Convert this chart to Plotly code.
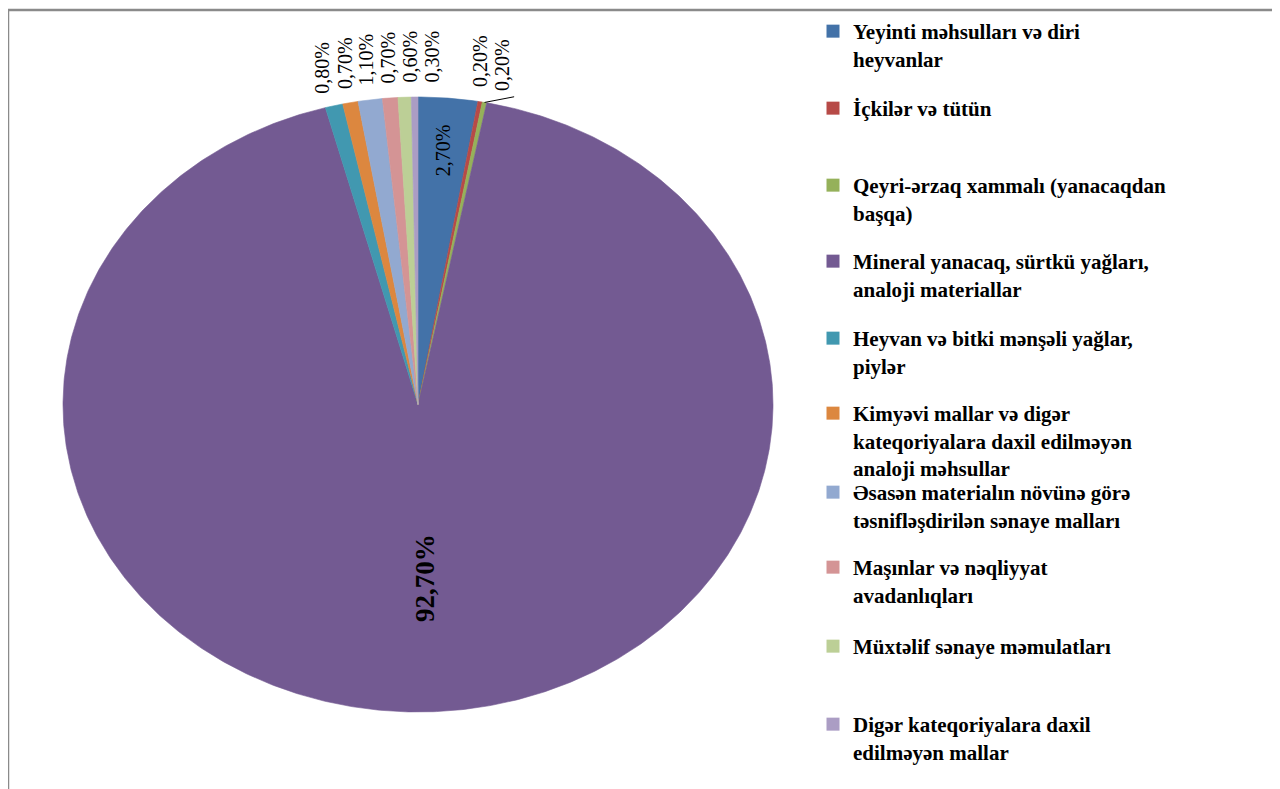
import numpy as np
import plotly.graph_objects as go

# ---------------- data ----------------
categories = [
    "Yeyinti məhsulları və diri heyvanlar",
    "İçkilər və tütün",
    "Qeyri-ərzaq xammalı (yanacaqdan başqa)",
    "Mineral yanacaq, sürtkü yağları, analoji materiallar",
    "Heyvan və bitki mənşəli yağlar, piylər",
    "Kimyəvi mallar və digər kateqoriyalara daxil edilməyən analoji məhsullar",
    "Əsasən materialın növünə görə təsnifləşdirilən sənaye malları",
    "Maşınlar və nəqliyyat avadanlıqları",
    "Müxtəlif sənaye məmulatları",
    "Digər kateqoriyalara daxil edilməyən mallar",
]
legend_names = [
    "Yeyinti məhsulları və diri<br>heyvanlar",
    "İçkilər və tütün",
    "Qeyri-ərzaq xammalı (yanacaqdan<br>başqa)",
    "Mineral yanacaq, sürtkü yağları,<br>analoji materiallar",
    "Heyvan və bitki mənşəli yağlar,<br>piylər",
    "Kimyəvi mallar və digər<br>kateqoriyalara daxil edilməyən<br>analoji məhsullar",
    "Əsasən materialın növünə görə<br>təsnifləşdirilən sənaye malları",
    "Maşınlar və nəqliyyat<br>avadanlıqları",
    "Müxtəlif sənaye məmulatları",
    "Digər kateqoriyalara daxil<br>edilməyən mallar",
]
values = [2.7, 0.2, 0.2, 92.7, 0.8, 0.7, 1.1, 0.7, 0.6, 0.3]
value_labels = [f"{v:.2f}".replace(".", ",") + "%" for v in values]

# ---------------- style / layout ----------------
colors = ["#4372A8", "#B74A47", "#95B15A", "#735A92", "#4198B0",
          "#DC873F", "#92A9D0", "#D49495", "#BCCF96", "#AB9DC4"]
PAGE_OFF = 8                      # default body margin of the html page
W, H = 1280 - PAGE_OFF, 789 - PAGE_OFF
CX, CY, RX, RY = 418, 404.5, 355, 307.5      # elliptical pie geometry (screen px)
INSIDE_MIN = 2.0
inside_radius = {3: 0.565}
inside_default_r = 0.83
label_gap = 14
label_spacing = 22
leader_slices = [2]
legend_line_centers = [33, 110, 187, 263, 340, 415, 494, 569, 648, 726]
LEGEND_TEXT_X = 853
SERIF = "Liberation Serif"

total = float(sum(values))
cum = np.concatenate([[0.0], np.cumsum(values)]) / total * 360.0


def pt(theta_deg, r=1.0):
    t = np.radians(theta_deg)
    return CX + RX * r * np.sin(t), CY - RY * r * np.cos(t)


def edge_y(x):
    dx = (x - CX) / RX
    return CY - RY * np.sqrt(max(0.0, 1 - dx * dx))


fig = go.Figure()

for i, v in enumerate(values):
    a0, a1 = cum[i], cum[i + 1]
    n = max(3, int((a1 - a0) * 2) + 2)
    th = np.linspace(a0, a1, n)
    xs, ys = pt(th)
    fig.add_trace(go.Scatter(
        x=np.concatenate([[CX], xs, [CX]]),
        y=np.concatenate([[CY], ys, [CY]]),
        mode="lines", fill="toself", fillcolor=colors[i],
        line=dict(color=colors[i], width=0.6),
        hoverinfo="text", text=f"{categories[i]}: {value_labels[i]}",
        showlegend=False,
    ))

mids = (cum[:-1] + cum[1:]) / 2
annotations = []
outside = [i for i, v in enumerate(values) if v < INSIDE_MIN]
natural = {i: pt(mids[i])[0] for i in outside}
placed = {}

right = sorted([i for i in outside if natural[i] >= CX], key=lambda i: natural[i])
prev = -1e9
for i in right:
    x = max(natural[i], prev + label_spacing)
    placed[i] = x
    prev = x

left = sorted([i for i in outside if natural[i] < CX], key=lambda i: natural[i])
clusters = [[i] for i in left]


def cluster_pos(c):
    m = np.mean([natural[j] for j in c])
    k = len(c)
    return [m + (j - (k - 1) / 2) * label_spacing for j in range(k)]


changed = True
while changed:
    changed = False
    for a in range(len(clusters) - 1):
        pa = cluster_pos(clusters[a])
        pb = cluster_pos(clusters[a + 1])
        if pb[0] - pa[-1] < label_spacing:
            clusters[a] = clusters[a] + clusters[a + 1]
            del clusters[a + 1]
            changed = True
            break
for c in clusters:
    for j, x in zip(c, cluster_pos(c)):
        placed[j] = x

for i in outside:
    x = placed[i]
    yb = edge_y(x) - label_gap
    annotations.append(dict(
        x=x, y=yb, xref="x", yref="y", text=value_labels[i],
        showarrow=False, textangle=-90, xanchor="center", yanchor="bottom",
        font=dict(family=SERIF, size=20, color="black"), borderpad=0,
    ))
    if i in leader_slices:
        ex, ey = pt(mids[i])
        fig.add_trace(go.Scatter(
            x=[ex, x + 12], y=[ey, yb + 5], mode="lines",
            line=dict(color="black", width=1), hoverinfo="skip", showlegend=False,
        ))

for i, v in enumerate(values):
    if v >= INSIDE_MIN:
        r = inside_radius.get(i, inside_default_r)
        x, y = pt(mids[i], r)
        big = v > 50
        annotations.append(dict(
            x=x, y=y, xref="x", yref="y",
            text=f"<b>{value_labels[i]}</b>" if big else value_labels[i],
            showarrow=False, textangle=-90, xanchor="center", yanchor="middle",
            font=dict(family=SERIF, size=27 if big else 20, color="black"),
        ))

layout_legends = {}
for i, name in enumerate(legend_names):
    key = "legend" if i == 0 else f"legend{i + 1}"
    fig.add_trace(go.Scatter(
        x=[None], y=[None], mode="markers",
        marker=dict(symbol="square", size=13, color=colors[i]),
        name=name, legend=key, showlegend=True,
    ))
    layout_legends[key] = dict(
        x=(LEGEND_TEXT_X - 40 - PAGE_OFF) / W, xanchor="left",
        y=1 - (legend_line_centers[i] - 22 - PAGE_OFF) / H, yanchor="top",
        valign="top", bgcolor="rgba(0,0,0,0)", borderwidth=0,
        font=dict(family=SERIF, size=21, color="black", weight="bold"),
    )

fig.update_layout(
    width=W, height=H, autosize=False,
    margin=dict(l=0, r=0, t=0, b=0),
    paper_bgcolor="white", plot_bgcolor="white",
    xaxis=dict(range=[PAGE_OFF, PAGE_OFF + W], visible=False, fixedrange=True),
    yaxis=dict(range=[PAGE_OFF + H, PAGE_OFF], visible=False, fixedrange=True),
    annotations=annotations,
    shapes=[dict(type="rect", xref="x", yref="y", x0=8, y0=10, x1=1275.5, y1=800,
                 line=dict(color="#8a8a8a", width=2.5), layer="below")],
    **layout_legends,
)

fig.write_html("out.html")
